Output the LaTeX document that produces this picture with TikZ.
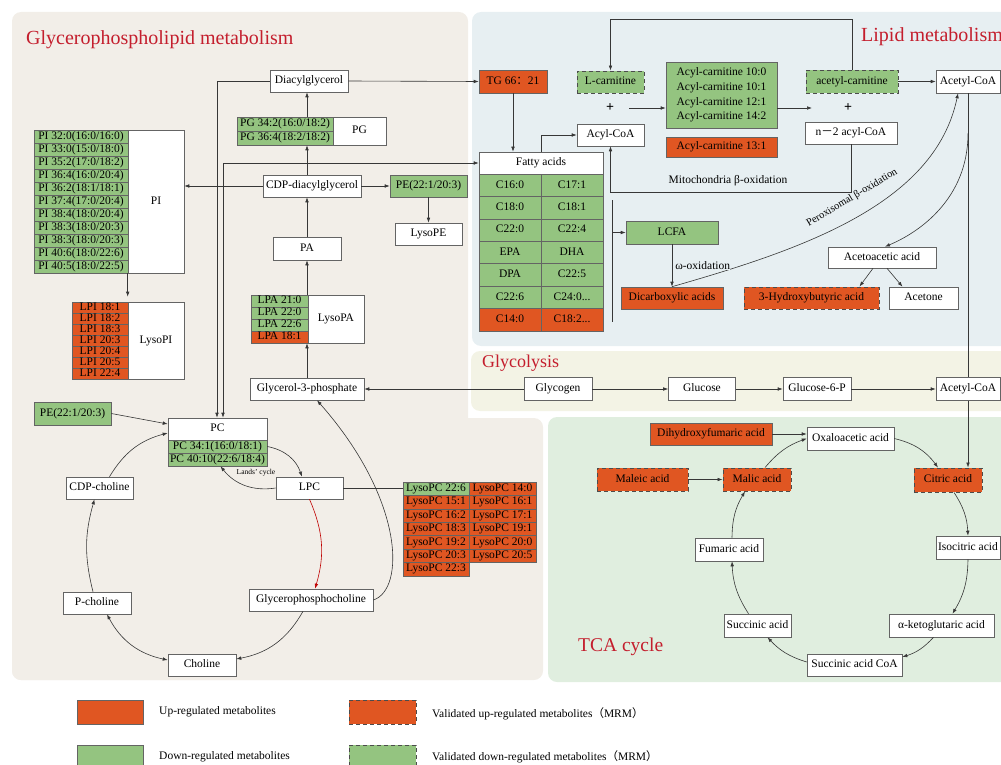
\documentclass[tikz,border=0pt]{standalone}
\usepackage{fontspec}
\setmainfont{Liberation Serif}
\newfontfamily\cjk{Noto Sans CJK SC}
\usepackage{tikz}
\usetikzlibrary{arrows.meta,calc}

\definecolor{uporange}{RGB}{224,86,34}
\definecolor{dngreen}{RGB}{148,196,128}
\definecolor{gpbg}{RGB}{242,238,232}
\definecolor{lipbg}{RGB}{231,239,242}
\definecolor{glybg}{RGB}{243,243,229}
\definecolor{tcabg}{RGB}{224,238,223}
\definecolor{titlered}{RGB}{196,30,45}
\definecolor{edgegray}{RGB}{100,100,100}
\definecolor{linegray}{RGB}{55,55,55}

\newcommand\fs{\fontsize{11.5}{13}\selectfont}

\tikzset{
  box/.style={draw=edgegray, line width=0.6pt, inner sep=0pt, minimum height=22, font=\fs},
  one/.style={text height=8, text depth=2.4},
  wbox/.style={box, one, fill=white},
  upbox/.style={box, one, fill=uporange},
  dnbox/.style={box, one, fill=dngreen},
  vupbox/.style={upbox, draw=black!70, line width=0.9pt, dash pattern=on 4pt off 3pt},
  vdnbox/.style={dnbox, draw=black!70, line width=0.9pt, dash pattern=on 4pt off 3pt},
  lbl/.style={inner sep=0pt, font=\fs},
  ttl/.style={anchor=base west, inner sep=0pt, text=titlered},
  conn/.style={draw=linegray, line width=0.6pt},
  arr/.style={conn, -{Latex[length=5pt,width=3.6pt]}},
  arrs/.style={conn, {Latex[length=5pt,width=3.6pt]}-{Latex[length=5pt,width=3.6pt]}},
}

\begin{document}
\begin{tikzpicture}[x=1pt,y=-1pt]
  \useasboundingbox (0,0) rectangle (1001,765);
  % panels
  \fill[gpbg, rounded corners=9pt] (12,12) rectangle (468,680);
  \fill[gpbg, rounded corners=9pt] (12,418) rectangle (543,680);
  \fill[lipbg, rounded corners=9pt] (472,12) rectangle (1015,346);
  \fill[glybg, rounded corners=9pt] (471,351) rectangle (1015,411);
  \fill[tcabg, rounded corners=9pt] (548,417) rectangle (1015,682);
  \node[ttl, font=\fontsize{20}{22}\selectfont] (tgp) at (26,45) {Glycerophospholipid metabolism};
  \node[ttl, font=\fontsize{20}{22}\selectfont] (tlip) at (861,42) {Lipid metabolism};
  \node[ttl, font=\fontsize{18}{20}\selectfont] (tgly) at (482,367) {Glycolysis};
  \node[ttl, font=\fontsize{19.5}{21}\selectfont] (ttca) at (578,651) {TCA cycle};

  % glycerophospholipid
  \node[wbox, minimum width=78] (dag) at (309,81) {Diacylglycerol};
  \node[dnbox, minimum width=96, minimum height=14] (pg1) at (285,124) {PG 34:2(16:0/18:2)};
  \node[dnbox, minimum width=96, minimum height=14] (pg2) at (285,138) {PG 36:4(18:2/18:2)};
  \node[wbox, minimum width=53, minimum height=28] (pg) at (359.5,131) {PG};
  \node[wbox, minimum width=98] (cdp) at (312,186) {CDP-diacylglycerol};
  \node[dnbox, minimum width=77] (pe1) at (428.5,186) {PE(22:1/20:3)};
  \node[wbox, minimum width=67] (lysope) at (428.5,234) {LysoPE};
  \node[wbox, minimum width=68, minimum height=23] (pa) at (307,248.5) {PA};
  \node[dnbox, minimum width=57, minimum height=12] (lpa1) at (279.5,301) {LPA 21:0};
  \node[dnbox, minimum width=57, minimum height=12] (lpa2) at (279.5,313) {LPA 22:0};
  \node[dnbox, minimum width=57, minimum height=12] (lpa3) at (279.5,325) {LPA 22:6};
  \node[upbox, minimum width=57, minimum height=12] (lpa4) at (279.5,337) {LPA 18:1};
  \node[wbox, minimum width=56, minimum height=48] (lysopa) at (336,319) {LysoPA};
  \node[wbox, minimum width=114] (g3p) at (307,389) {Glycerol-3-phosphate};

  % PI
  \node[dnbox, minimum width=94, minimum height=13] (pi1) at (81,136.5) {PI 32:0(16:0/16:0)};
  \node[dnbox, minimum width=94, minimum height=13] (pi2) at (81,149.5) {PI 33:0(15:0/18:0)};
  \node[dnbox, minimum width=94, minimum height=13] (pi3) at (81,162.5) {PI 35:2(17:0/18:2)};
  \node[dnbox, minimum width=94, minimum height=13] (pi4) at (81,175.5) {PI 36:4(16:0/20:4)};
  \node[dnbox, minimum width=94, minimum height=13] (pi5) at (81,188.5) {PI 36:2(18:1/18:1)};
  \node[dnbox, minimum width=94, minimum height=13] (pi6) at (81,201.5) {PI 37:4(17:0/20:4)};
  \node[dnbox, minimum width=94, minimum height=13] (pi7) at (81,214.5) {PI 38:4(18:0/20:4)};
  \node[dnbox, minimum width=94, minimum height=13] (pi8) at (81,227.5) {PI 38:3(18:0/20:3)};
  \node[dnbox, minimum width=94, minimum height=13] (pi9) at (81,240.5) {PI 38:3(18:0/20:3)};
  \node[dnbox, minimum width=94, minimum height=13] (pi10) at (81,253.5) {PI 40:6(18:0/22:6)};
  \node[dnbox, minimum width=94, minimum height=13] (pi11) at (81,266.5) {PI 40:5(18:0/22:5)};
  \node[wbox, minimum width=56, minimum height=143] (pi) at (156,201.5) {PI};
  % LysoPI
  \node[upbox, minimum width=56, minimum height=11] (lpi1) at (100,307.5) {LPI 18:1};
  \node[upbox, minimum width=56, minimum height=11] (lpi2) at (100,318.5) {LPI 18:2};
  \node[upbox, minimum width=56, minimum height=11] (lpi3) at (100,329.5) {LPI 18:3};
  \node[upbox, minimum width=56, minimum height=11] (lpi4) at (100,340.5) {LPI 20:3};
  \node[upbox, minimum width=56, minimum height=11] (lpi5) at (100,351.5) {LPI 20:4};
  \node[upbox, minimum width=56, minimum height=11] (lpi6) at (100,362.5) {LPI 20:5};
  \node[upbox, minimum width=56, minimum height=11] (lpi7) at (100,373.5) {LPI 22:4};
  \node[wbox, minimum width=56, minimum height=77] (lysopi) at (156,340.5) {LysoPI};

  % PC cycle
  \node[dnbox, minimum width=77, minimum height=23] (pe2) at (72.5,413.5) {PE(22:1/20:3)};
  \node[wbox, minimum width=99] (pc) at (217.5,429) {PC};
  \node[dnbox, minimum width=99, minimum height=13] (pcr1) at (217.5,446.5) {PC 34:1(16:0/18:1)};
  \node[dnbox, minimum width=99, minimum height=13] (pcr2) at (217.5,459.5) {PC 40:10(22:6/18:4)};
  \node[wbox, minimum width=67] (lpc) at (309.5,488) {LPC};
  \node[wbox, minimum width=124] (gpc) at (311,600) {Glycerophosphocholine};
  \node[wbox, minimum width=68] (choline) at (202,665) {Choline};
  \node[wbox, minimum width=68] (pcho) at (97,603) {P-choline};
  \node[wbox, minimum width=67] (cdpcho) at (99.5,488) {CDP-choline};
  \node[inner sep=0pt, font=\fontsize{7.5}{8}\selectfont] (lands) at (256,473) {Lands' cycle};

  % LysoPC
  \node[dnbox, minimum width=66, minimum height=13.4] (pc1a) at (436,488.7) {LysoPC 22:6};
  \node[upbox, minimum width=67, minimum height=13.4] (pc1b) at (502.5,488.7) {LysoPC 14:0};
  \node[upbox, minimum width=66, minimum height=13.4] (pc2a) at (436,502.1) {LysoPC 15:1};
  \node[upbox, minimum width=67, minimum height=13.4] (pc2b) at (502.5,502.1) {LysoPC 16:1};
  \node[upbox, minimum width=66, minimum height=13.4] (pc3a) at (436,515.5) {LysoPC 16:2};
  \node[upbox, minimum width=67, minimum height=13.4] (pc3b) at (502.5,515.5) {LysoPC 17:1};
  \node[upbox, minimum width=66, minimum height=13.4] (pc4a) at (436,528.9) {LysoPC 18:3};
  \node[upbox, minimum width=67, minimum height=13.4] (pc4b) at (502.5,528.9) {LysoPC 19:1};
  \node[upbox, minimum width=66, minimum height=13.4] (pc5a) at (436,542.3) {LysoPC 19:2};
  \node[upbox, minimum width=67, minimum height=13.4] (pc5b) at (502.5,542.3) {LysoPC 20:0};
  \node[upbox, minimum width=66, minimum height=13.4] (pc6a) at (436,555.7) {LysoPC 20:3};
  \node[upbox, minimum width=67, minimum height=13.4] (pc6b) at (502.5,555.7) {LysoPC 20:5};
  \node[upbox, minimum width=66, minimum height=13.4] (pc7a) at (436,569.1) {LysoPC 22:3};

  % lipid metabolism
  \node[upbox, minimum width=68, minimum height=23] (tg) at (513,81.5) {TG 66{\cjk ：}21};
  \node[vdnbox, minimum width=67] (lcar) at (610.5,82) {L-carnitine};
  \node[inner sep=0pt, font=\bfseries\fontsize{14}{14}\selectfont] (plusl) at (610,108) {+};
  \node[box, fill=dngreen, minimum width=111, minimum height=66, align=center,
        font=\fontsize{11.5}{14.6}\selectfont] (acar) at (721.5,95)
        {Acyl-carnitine 10:0\\Acyl-carnitine 10:1\\Acyl-carnitine 12:1\\Acyl-carnitine 14:2};
  \node[upbox, minimum width=111, minimum height=20] (acar13) at (721.5,147) {Acyl-carnitine 13:1};
  \node[inner sep=0pt, font=\bfseries\fontsize{14}{14}\selectfont] (plusr) at (848,108) {+};
  \node[vdnbox, minimum width=92, minimum height=23] (acetcar) at (852,81.5) {acetyl-carnitine};
  \node[wbox, minimum width=64, minimum height=23] (acoa1) at (968,81.5) {Acetyl-CoA};
  \node[wbox, minimum width=92] (n2) at (851,133) {n{\cjk －}2 acyl-CoA};
  \node[wbox, minimum width=67] (acylcoa) at (610.5,135) {Acyl-CoA};
  \node[lbl] (mito) at (728,181) {Mitochondria β-oxidation};

  % fatty acids
  \node[wbox, minimum width=124] (fa) at (541,163) {Fatty acids};
  \node[dnbox, minimum width=62, minimum height=22.4] (fa1a) at (510,185.2) {C16:0};
  \node[dnbox, minimum width=62, minimum height=22.4] (fa1b) at (572,185.2) {C17:1};
  \node[dnbox, minimum width=62, minimum height=22.4] (fa2a) at (510,207.6) {C18:0};
  \node[dnbox, minimum width=62, minimum height=22.4] (fa2b) at (572,207.6) {C18:1};
  \node[dnbox, minimum width=62, minimum height=22.4] (fa3a) at (510,230.0) {C22:0};
  \node[dnbox, minimum width=62, minimum height=22.4] (fa3b) at (572,230.0) {C22:4};
  \node[dnbox, minimum width=62, minimum height=22.4] (fa4a) at (510,252.4) {EPA};
  \node[dnbox, minimum width=62, minimum height=22.4] (fa4b) at (572,252.4) {DHA};
  \node[dnbox, minimum width=62, minimum height=22.4] (fa5a) at (510,274.8) {DPA};
  \node[dnbox, minimum width=62, minimum height=22.4] (fa5b) at (572,274.8) {C22:5};
  \node[dnbox, minimum width=62, minimum height=22.4] (fa6a) at (510,297.2) {C22:6};
  \node[dnbox, minimum width=62, minimum height=22.4] (fa6b) at (572,297.2) {C24:0...};
  \node[upbox, minimum width=62, minimum height=22.4] (fa7a) at (510,319.6) {C14:0};
  \node[upbox, minimum width=62, minimum height=22.4] (fa7b) at (572,319.6) {C18:2...};
  \coordinate (bart) at (612,200);
  \coordinate (barb) at (612,322);
  \node[dnbox, minimum width=92, minimum height=23] (lcfa) at (672,232.5) {LCFA};
  \node[upbox, minimum width=102] (dca) at (672,298) {Dicarboxylic acids};
  \node[wbox, minimum width=108, minimum height=21] (acetoac) at (882,257.5) {Acetoacetic acid};
  \node[vupbox, minimum width=135] (hba) at (811.5,298) {3-Hydroxybutyric acid};
  \node[wbox, minimum width=69] (acetone) at (923.5,298) {Acetone};
  \node[inner sep=0pt, font=\fontsize{10.5}{12}\selectfont, rotate=31] (perox) at (852,198) {Peroxisomal β-oxidation};

  % glycolysis
  \node[wbox, minimum width=68, minimum height=23] (glycogen) at (558,389) {Glycogen};
  \node[wbox, minimum width=67, minimum height=23] (glucose) at (702,389) {Glucose};
  \node[wbox, minimum width=68, minimum height=23] (g6p) at (817,389) {Glucose-6-P};
  \node[wbox, minimum width=64, minimum height=23] (acoa2) at (968,389) {Acetyl-CoA};

  % TCA cycle
  \node[upbox, minimum width=122] (dhf) at (711,434) {Dihydroxyfumaric acid};
  \node[wbox, minimum width=87, minimum height=23] (oaa) at (850.5,438.5) {Oxaloacetic acid};
  \node[vupbox, minimum width=91, minimum height=23] (maleic) at (642.5,479.5) {Maleic acid};
  \node[vupbox, minimum width=68, minimum height=23] (malic) at (757,479.5) {Malic acid};
  \node[vupbox, minimum width=68, minimum height=24] (citric) at (948,480) {Citric acid};
  \node[wbox, minimum width=64, minimum height=23] (isocit) at (968,547.5) {Isocitric acid};
  \node[wbox, minimum width=105, minimum height=23] (akg) at (941.5,625.5) {α-ketoglutaric acid};
  \node[wbox, minimum width=95] (succoa) at (854.5,665) {Succinic acid CoA};
  \node[wbox, minimum width=67, minimum height=23] (succ) at (757.5,625.5) {Succinic acid};
  \node[wbox, minimum width=68, minimum height=23] (fum) at (729,549.5) {Fumaric acid};

  % arrows, glycerophospholipid
  \draw[arr] (dag.east) -- (tg.west);
  \draw[arr] (dag.west) -| ([xshift=-0.5]pc.north);
  \draw[arrs] ([xshift=5.5]pc.north) |- (fa.west);
  \draw[arr] (pg1.north -| pa.north) -- (pa.north |- dag.south);
  \draw[arr] (cdp.north -| pa.north) -- (pa.north |- pg2.south);
  \draw[arr] (pa.north) -- (pa.north |- cdp.south);
  \draw[arr] (lpa1.north -| pa.south) -- (pa.south);
  \draw[arr] (g3p.north) -- (g3p.north |- lpa4.south);
  \draw[arr] (cdp.east) -- (pe1.west);
  \draw[arr] (pe1.south) -- (lysope.north);
  \draw[arr] (cdp.west) -- (cdp.west -| pi.east);
  \draw[arr] (pi.south west) -- ([yshift=5]lysopi.north west);
  \draw[arr] (glycogen.west) -- (g3p.east);
  \draw[arr] (gpc.east) .. controls (405,590) and (405,500) .. ([xshift=10]g3p.south);
  % arrows, PC cycle
  \draw[arr] (pe2.east) -- ([yshift=5]pc.west);
  \draw[arr] (pcr1.east) to[bend left=30] ([xshift=-7.5]lpc.north);
  \draw[arr] (lpc.west) to[bend left=30] ([xshift=3]pcr2.south);
  \draw[arr, draw=red!75!black] (lpc.south) to[bend left=20] ([xshift=4]gpc.north);
  \draw[arr] ([xshift=-8]gpc.south) to[bend left=25] ([yshift=6]choline.east);
  \draw[arrs] ([yshift=5]choline.west) to[bend left=25] ([xshift=10]pcho.south);
  \draw[arr] ([xshift=-4]pcho.north) to[bend left=15] ([xshift=-5]cdpcho.south);
  \draw[arr] ([xshift=10]cdpcho.north) to[bend left=22] ([yshift=-4]pc.west);
  \draw[conn] (lpc.east) -- (lpc.east -| pc1a.west);

  % arrows, lipid metabolism
  \draw[arr] (tg.south) -- (tg.south |- fa.north);
  \draw[arr] (fa.north) |- (acylcoa.west);
  \draw[arr] (acetcar.north) -- ++(0,-50) -| (lcar.north);
  \draw[arr] ([xshift=19]plusl.center) -- (acar.west |- plusl.center);
  \draw[arr] (acar.east |- plusr.center) -- ([xshift=-36]plusr.center);
  \draw[arr] (acetcar.east) -- (acoa1.west);
  \draw[arr] (n2.south) -- ++(0,48) -| (acylcoa.south);
  \draw[conn] (bart) -- (barb);
  \draw[arr] (bart |- lcfa.west) -- (lcfa.west);
  \draw[arr] (dca.north) .. controls (800,250) and (935,205) .. ([xshift=-10]acoa1.south);
  \draw[arr] (lcfa.south) -- node[lbl, right=3pt, fill=lipbg] (omega) {ω-oxidation} (dca.north);
  \draw[arr] ([yshift=-40]acoa1.south) .. controls ([yshift=-105]acoa1.south) and (920,232) .. ([xshift=3]acetoac.north);
  \draw[arr] ([xshift=-9]acetoac.south) -- ([xshift=48]hba.north);
  \draw[arr] ([xshift=5]acetoac.south) -- ([xshift=-21]acetone.north);
  \draw[conn] (acoa1.south) -- (acoa2.north);

  % arrows, glycolysis
  \draw[arr] (glycogen.east) -- (glucose.west);
  \draw[arr] (glucose.east) -- (g6p.west);
  \draw[arr] (g6p.east) -- (acoa2.west);
  \draw[arr] (acoa2.south) -- (acoa2.south |- citric.north);

  % arrows, TCA cycle
  \draw[arr] (dhf.east) -- (dhf.east -| oaa.west);
  \draw[arr] (maleic.east) -- (malic.west);
  \draw[arr] (oaa.east) to[bend left=20] ([xshift=-10]citric.north);
  \draw[arr] ([xshift=6]citric.south) to[bend left=15] (isocit.north);
  \draw[arr] (isocit.south) to[bend left=15] ([xshift=11]akg.north);
  \draw[arr] ([xshift=-8]akg.south) to[bend left=15] ([yshift=8]succoa.east);
  \draw[arr] ([yshift=3]succoa.west) to[bend left=15] ([xshift=10]succ.south);
  \draw[arr] ([xshift=-9]succ.north) to[bend left=15] ([xshift=3]fum.south);
  \draw[arr] ([xshift=3]fum.north) to[bend left=15] ([xshift=-12]malic.south);
  \draw[arr] ([xshift=8]malic.north) to[bend left=15] (oaa.west);

  % legend
  \node[box, fill=uporange, minimum width=66, minimum height=24] (lgup) at (110,712) {};
  \node[lbl, anchor=west] (lgupt) at (159,712) {Up-regulated metabolites};
  \node[box, fill=dngreen, minimum width=66, minimum height=24] (lgdn) at (110,757) {};
  \node[lbl, anchor=west] (lgdnt) at (159,757) {Down-regulated metabolites};
  \node[vupbox, minimum width=67, minimum height=24] (lgvup) at (382.5,712) {};
  \node[lbl, anchor=west] (lgvupt) at (432,714) {Validated up-regulated metabolites{\cjk （}MRM{\cjk ）}};
  \node[vdnbox, minimum width=67, minimum height=24] (lgvdn) at (382.5,757) {};
  \node[lbl, anchor=west] (lgvdnt) at (432,757) {Validated down-regulated metabolites{\cjk （}MRM{\cjk ）}};
\end{tikzpicture}
\end{document}
